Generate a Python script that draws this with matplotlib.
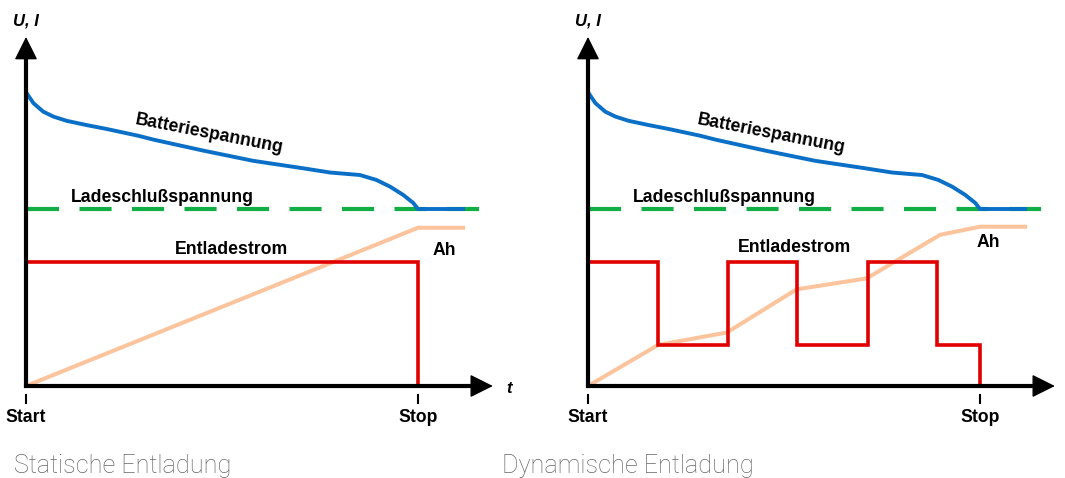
import matplotlib
matplotlib.use("Agg")
import matplotlib.pyplot as plt

# ---------- data (t: Start=0, Stop=10 ; y: arbitrary U/I units) ----------
batt_t = [0.03, 0.19, 0.44, 0.70, 1.04, 1.55, 2.06, 2.86, 3.25, 4.52, 5.80, 7.07,
          7.76, 8.52, 8.94, 9.29, 9.62, 9.88, 10.0, 11.15]
batt_u = [8.25, 7.99, 7.75, 7.61, 7.49, 7.37, 7.26, 7.07, 6.96, 6.65, 6.36, 6.15,
          6.03, 5.96, 5.82, 5.63, 5.40, 5.17, 5.00, 5.00]

cutoff_t = [0.03, 11.6]
cutoff_u = [5.0, 5.0]

# static discharge
stat_i_t = [0.0, 10.0, 10.0]
stat_i = [3.51, 3.51, 0.0]
stat_ah_t = [0.0, 10.0, 11.15]
stat_ah = [0.0, 4.47, 4.47]

# dynamic discharge
dyn_i_t = [0.0, 1.79, 1.79, 3.58, 3.58, 5.32, 5.32, 7.15, 7.15, 8.90, 8.90, 10.0, 10.0]
dyn_i = [3.51, 3.51, 1.16, 1.16, 3.51, 3.51, 1.16, 1.16, 3.51, 3.51, 1.16, 1.16, 0.0]
dyn_ah_t = [0.0, 1.79, 3.54, 5.32, 7.11, 8.98, 10.0, 11.15]
dyn_ah = [0.0, 1.16, 1.51, 2.73, 3.04, 4.27, 4.50, 4.50]

tick_t = [0.0, 10.0]
tick_labels = ["Start", "Stop"]
captions = ["Statische Entladung", "Dynamische Entladung"]

BLUE = "#0a6fc6"
GREEN = "#10ae45"
RED = "#e00000"
ORANGE = "#fcc49c"

# ---------- layout (pixels) ----------
W, H = 1065, 478
PX_T, PX_V, Y0 = 39.2, 35.4, 386
T_TIP, V_TIP = 11.91, 9.86

fig = plt.figure(figsize=(W / 100, H / 100), dpi=100)
fig.patch.set_facecolor("white")

bold = dict(family=["Liberation Sans", "DejaVu Sans"], fontweight="bold", fontsize=12.7, color="black")
bold_it = dict(family=["Liberation Sans", "DejaVu Sans"], fontweight="bold", style="italic", fontsize=12, color="black")


def make_axes(left_px, right_px, x0_px):
    ax = fig.add_axes([left_px / W, 0, (right_px - left_px) / W, 1])
    ax.set_xlim((left_px - x0_px) / PX_T, (right_px - x0_px) / PX_T)
    ax.set_ylim(-(H - Y0) / PX_V, Y0 / PX_V)
    ax.axis("off")
    return ax


def draw_frame(ax, with_t):
    # axis shafts
    ax.plot([0, 0, T_TIP - 0.4], [V_TIP - 0.4, 0, 0], color="black", lw=3,
            solid_joinstyle="miter", solid_capstyle="butt", clip_on=False, zorder=5)
    head = dict(arrowstyle="-|>,head_length=1.0,head_width=0.5", color="black",
                lw=1, mutation_scale=14.5, shrinkA=0, shrinkB=0)
    ax.annotate("", xy=(0, V_TIP), xytext=(0, V_TIP - 0.7), arrowprops=head, zorder=6)
    ax.annotate("", xy=(T_TIP, 0), xytext=(T_TIP - 0.7, 0), arrowprops=head, zorder=6)
    for t, lab in zip(tick_t, tick_labels):
        ax.plot([t, t], [-0.25, -0.49], color="black", lw=1.5, clip_on=False)
        ax.text(t, -1.01, lab, ha="center", va="baseline", **bold)
    ax.text(0, 10.17, "U, I", ha="center", va="baseline", **bold_it)
    if with_t:
        ax.text(12.33, -0.19, "t", ha="center", va="baseline", **bold_it)


def draw_common(ax):
    ax.plot(batt_t, batt_u, color=BLUE, lw=2.8, solid_joinstyle="round", zorder=3)
    line, = ax.plot(cutoff_t, cutoff_u, color=GREEN, lw=3.0, zorder=2)
    line.set_dashes((7.7, 4.9))
    ax.text(4.66, 6.99, "Batteriespannung", rotation=-11, rotation_mode="anchor",
            ha="center", va="baseline", **bold)
    ax.text(3.48, 5.21, "Ladeschlußspannung", ha="center", va="baseline", **bold)


# ---------- left: static ----------
ax1 = make_axes(0, 532, 26)
draw_common(ax1)
ax1.plot(stat_ah_t, stat_ah, color=ORANGE, lw=2.9, zorder=2)
ax1.plot(stat_i_t, stat_i, color=RED, lw=2.6, solid_joinstyle="miter", zorder=3)
ax1.text(5.25, 3.72, "Entladestrom", ha="center", va="baseline", **bold)
ax1.text(10.68, 3.70, "Ah", ha="center", va="baseline", **bold)
draw_frame(ax1, True)

# ---------- right: dynamic ----------
ax2 = make_axes(532, W, 588)
draw_common(ax2)
ax2.plot(dyn_ah_t, dyn_ah, color=ORANGE, lw=2.9, zorder=2)
ax2.plot(dyn_i_t, dyn_i, color=RED, lw=2.6, solid_joinstyle="miter", zorder=3)
ax2.text(5.26, 3.78, "Entladestrom", ha="center", va="baseline", **bold)
ax2.text(10.22, 3.92, "Ah", ha="center", va="baseline", **bold)
draw_frame(ax2, False)

# ---------- captions ----------
cap = dict(family=["Roboto", "DejaVu Sans"], fontweight="light", fontsize=18.2, color="#666666")
fig.text(14 / W, (H - 473) / H, captions[0], ha="left", va="baseline", **cap)
fig.text(502 / W, (H - 473) / H, captions[1], ha="left", va="baseline", **cap)

fig.savefig("out.png", dpi=100, facecolor="white")
